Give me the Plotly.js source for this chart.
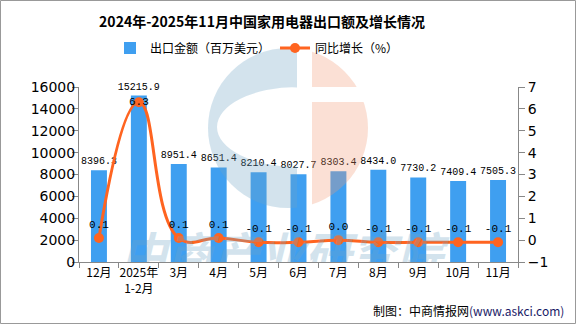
<!DOCTYPE html>
<html><head><meta charset="utf-8">
<script src="https://cdn.plot.ly/plotly-3.0.1.min.js"></script>
<style>html,body{margin:0;padding:0;background:#fff}#chart{width:576px;height:324px}</style>
</head><body><div id="chart"></div>
<script>
const categories = ["12月","2025年<br>1-2月","3月","4月","5月","6月","7月","8月","9月","10月","11月"];
const exportValues = [8396.3,15215.9,8951.4,8651.4,8210.4,8027.7,8303.4,8434.0,7730.2,7409.4,7505.3];
const growthValues = [0.1,6.3,0.1,0.1,-0.1,-0.1,0.0,-0.1,-0.1,-0.1,-0.1];
const barName = "出口金额（百万美元）";
const lineName = "同比增长（%）";

const W = 576, H = 324, L = 79, R = 58, T = 87, B = 62;
const pw = W - L - R, ph = H - T - B;
const px = x => (x - L) / pw;
const py = y => (H - B - y) / ph;

const cjk = '"Noto Sans CJK SC", "Noto Sans", sans-serif';
const mono = '"Liberation Mono", "DejaVu Sans Mono", monospace';
const num = '"DejaVu Sans", sans-serif';

const svg = `<svg xmlns="http://www.w3.org/2000/svg" width="576" height="324" viewBox="0 0 576 324">
<defs><clipPath id="c"><circle cx="288" cy="128" r="80"/></clipPath>
<clipPath id="p"><rect x="79" y="0" width="439" height="262"/></clipPath></defs>
<g clip-path="url(#c)">
<path fill="rgb(112,165,198)" fill-rule="evenodd" d="M0,0 H297 V324 H0 Z M297,87 A80,40 0 0 0 297,167 Z"/>
<rect x="312" y="0" width="100" height="87" fill="rgb(242,155,118)"/>
<rect x="312" y="102" width="100" height="222" fill="rgb(242,155,118)"/>
</g>
<g clip-path="url(#p)"><text x="282" y="271" text-anchor="middle" font-family="Noto Sans CJK SC" font-weight="bold" font-style="italic" font-size="46" fill="rgb(112,165,198)">中商产业研究院</text></g>
</svg>`;
const svgUri = "data:image/svg+xml;charset=utf-8," + encodeURIComponent(svg);

const traces = [
  {
    type: "bar", name: barName, x: categories, y: exportValues,
    marker: {color: "#3f9ff0"},
    text: exportValues.map(v => v.toFixed(1)), textposition: "outside",
    textfont: {family: mono, size: 10, color: "#000"},
    cliponaxis: false, constraintext: "none"
  },
  {
    type: "scatter", mode: "lines+markers+text", name: lineName, x: categories, y: growthValues,
    yaxis: "y2", line: {color: "#ff6420", width: 3, shape: "spline", smoothing: 1.3},
    marker: {color: "#ff6420", size: 10},
    text: growthValues.map(v => v.toFixed(1)),
    textposition: growthValues.map(v => v > 3 ? "middle center" : "top center"),
    textfont: {family: mono, size: 11, color: "#000"},
    cliponaxis: false
  }
];

const layout = {
  width: W, height: H,
  margin: {l: L, r: R, t: T, b: B},
  paper_bgcolor: "#fff", plot_bgcolor: "rgba(0,0,0,0)",
  title: {text: "2024年-2025年11月中国家用电器出口额及增长情况", font: {family: cjk, size: 14, color: "#000", weight: "bold"},
    x: 262 / W, xanchor: "center", y: 1 - 22 / H, yanchor: "middle"},
  showlegend: true,
  legend: {orientation: "h", x: px(257), xanchor: "center", y: py(48), yanchor: "middle",
    font: {family: cjk, size: 12, color: "#000"}, itemwidth: 30, bgcolor: "rgba(0,0,0,0)"},
  bargap: 0.6,
  xaxis: {type: "category", showline: true, linecolor: "#888", linewidth: 1, ticks: "outside", tickson: "boundaries",
    ticklen: 5, tickcolor: "#888", tickangle: 0, tickfont: {family: cjk, size: 12, color: "#000"}, showgrid: false, zeroline: false,
    range: [-0.5, 10.5]},
  yaxis: {range: [0, 16000], dtick: 2000, tickformat: "d", exponentformat: "none", showline: true, linecolor: "#888",
    ticks: "outside", ticklen: 6, tickcolor: "#888",
    tickfont: {family: num, size: 14, color: "#000"}, showgrid: false, zeroline: false, ticklabelstandoff: -6},
  yaxis2: {range: [-1, 7], dtick: 1, overlaying: "y", side: "right", showline: true, linecolor: "#888", ticks: "outside",
    ticklen: 6, tickcolor: "#888", tickfont: {family: num, size: 14, color: "#000"}, showgrid: false, zeroline: false},
  images: [{source: svgUri, xref: "paper", yref: "paper", x: px(0), y: py(0), sizex: W / pw, sizey: H / ph,
    xanchor: "left", yanchor: "top", sizing: "stretch", layer: "above", opacity: 0.3}],
  annotations: [{text: '制图：中商情报网<span style="color:#1a1a66">(www.askci.com)</span>', xref: "paper", yref: "paper",
    x: px(566), y: py(310), xanchor: "right", yanchor: "middle", showarrow: false,
    font: {family: cjk, size: 12, color: "#000"}}],
  shapes: [{type: "rect", xref: "paper", yref: "paper", x0: px(0.5), x1: px(575.5), y0: py(0.5), y1: py(323.5),
    line: {color: "#999", width: 1}, fillcolor: "rgba(0,0,0,0)"}]
};

Plotly.newPlot("chart", traces, layout, {displayModeBar: false, staticPlot: true});
</script></body></html>
